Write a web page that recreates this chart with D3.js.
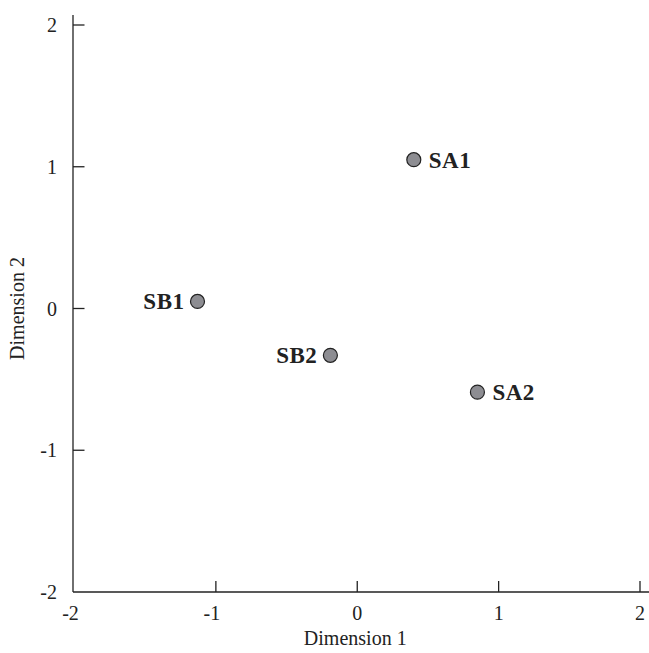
<!DOCTYPE html>
<html>
<head>
<meta charset="utf-8">
<script src="https://cdn.jsdelivr.net/npm/d3@7"></script>
<style>
  body { margin: 0; background: #fff; }
  text { font-family: "Liberation Serif", "Times New Roman", serif; fill: #222; }
</style>
</head>
<body>
<div class="chart"></div>
<script>
var labels = ["SA1", "SB1", "SB2", "SA2"];
var dim1 = [0.40, -1.13, -0.19, 0.85];
var dim2 = [1.05, 0.05, -0.33, -0.59];
var ticks = [-2, -1, 0, 1, 2];
var labelSide = ["right", "left", "left", "right"];

var width = 649, height = 653;
var svg = d3.select(".chart").append("svg")
  .attr("width", width)
  .attr("height", height);

var x = d3.scaleLinear().domain([-2, 2]).range([74.5, 640]);
var y = d3.scaleLinear().domain([-2, 2]).range([592, 25]);

var axisColor = "#222";

// axis lines, stretched a little beyond the last tick
svg.append("line")
  .attr("x1", x(-2) - 1.5).attr("x2", x(-2) - 1.5)
  .attr("y1", y(2) - 10).attr("y2", y(-2))
  .attr("stroke", axisColor).attr("stroke-width", 1.3);
svg.append("line")
  .attr("x1", x(-2) - 1.5).attr("x2", x(2) + 10)
  .attr("y1", y(-2)).attr("y2", y(-2))
  .attr("stroke", axisColor).attr("stroke-width", 1.3);

// x ticks (inward)
svg.selectAll(".xtick").data(ticks.slice(1)).enter().append("line")
  .attr("class", "xtick")
  .attr("x1", function(d) { return x(d); })
  .attr("x2", function(d) { return x(d); })
  .attr("y1", y(-2)).attr("y2", y(-2) - 11)
  .attr("stroke", axisColor).attr("stroke-width", 1.3);

svg.selectAll(".xlab").data(ticks).enter().append("text")
  .attr("class", "xlab")
  .attr("x", function(d) { return x(d) - (d < 0 ? 4 : 0); })
  .attr("y", y(-2) + 28)
  .attr("text-anchor", "middle")
  .attr("font-size", "20px")
  .text(function(d) { return d; });

// y ticks (inward)
svg.selectAll(".ytick").data(ticks.slice(1)).enter().append("line")
  .attr("class", "ytick")
  .attr("x1", x(-2) - 1.5).attr("x2", x(-2) + 10)
  .attr("y1", function(d) { return y(d); })
  .attr("y2", function(d) { return y(d); })
  .attr("stroke", axisColor).attr("stroke-width", 1.3);

svg.selectAll(".ylab").data(ticks).enter().append("text")
  .attr("class", "ylab")
  .attr("x", 57)
  .attr("y", function(d) { return y(d) + 7; })
  .attr("text-anchor", "end")
  .attr("font-size", "20px")
  .text(function(d) { return d; });

svg.append("text")
  .attr("x", (x(-2) + x(2)) / 2 - 2)
  .attr("y", 645)
  .attr("text-anchor", "middle")
  .attr("font-size", "20px")
  .text("Dimension 1");

svg.append("text")
  .attr("transform", "translate(24," + y(0) + ") rotate(-90)")
  .attr("text-anchor", "middle")
  .attr("font-size", "20px")
  .text("Dimension 2");

// points
var pts = labels.map(function(l, i) {
  return { label: l, d1: dim1[i], d2: dim2[i], side: labelSide[i] };
});

svg.selectAll("circle").data(pts).enter().append("circle")
  .attr("cx", function(d) { return x(d.d1); })
  .attr("cy", function(d) { return y(d.d2); })
  .attr("r", 7)
  .attr("fill", "#8d8d92")
  .attr("stroke", "#222")
  .attr("stroke-width", 1.2);

svg.selectAll(".plab").data(pts).enter().append("text")
  .attr("class", "plab")
  .attr("x", function(d) { return x(d.d1) + (d.side == "right" ? 15 : -13); })
  .attr("y", function(d) { return y(d.d2) + 8; })
  .attr("text-anchor", function(d) { return d.side == "right" ? "start" : "end"; })
  .attr("font-size", "23px")
  .attr("font-weight", "bold")
  .attr("letter-spacing", "0.5px")
  .text(function(d) { return d.label; });
</script>
</body>
</html>
